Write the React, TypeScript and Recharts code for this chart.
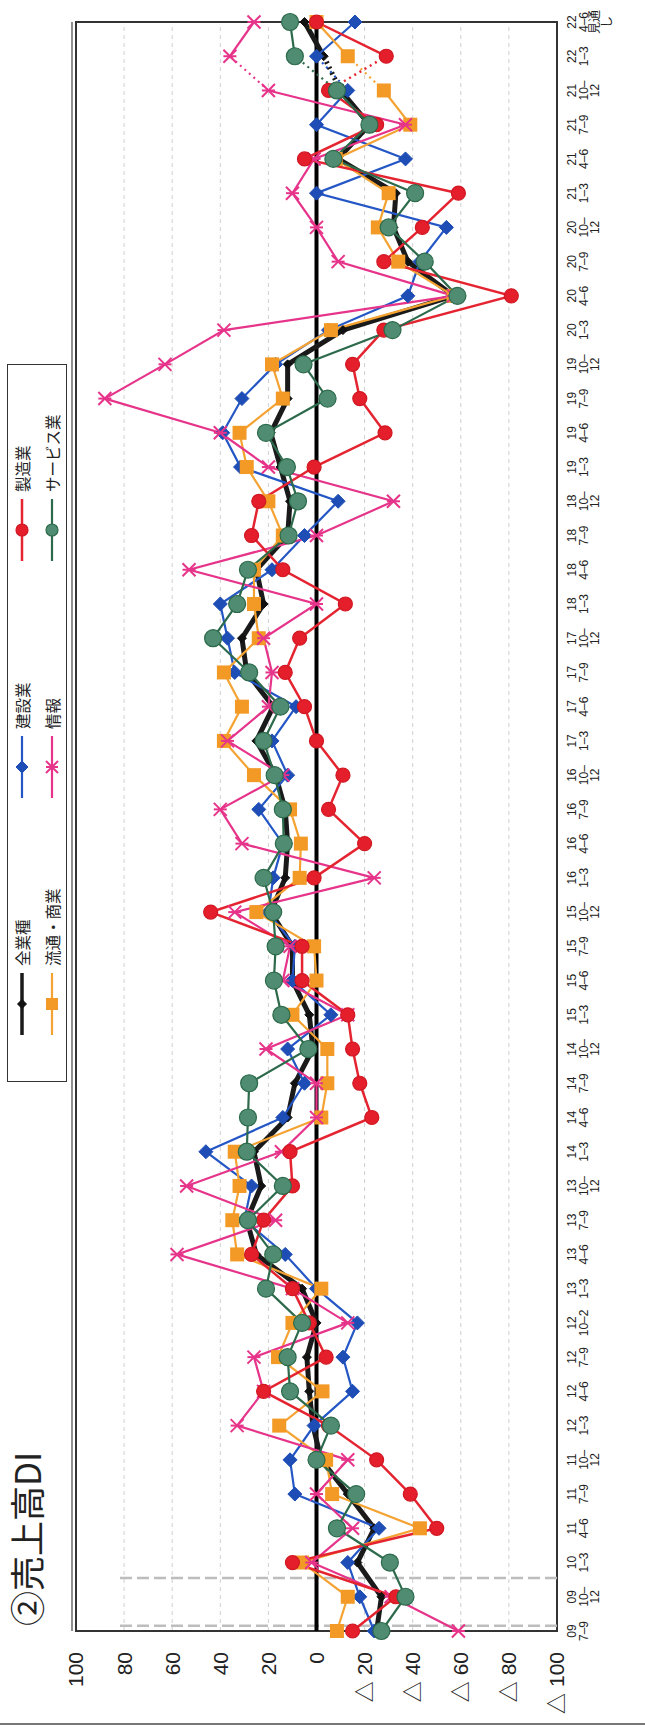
import React from 'react'
import {
  LineChart, Line, XAxis, YAxis, CartesianGrid, ReferenceLine, ReferenceArea,
} from 'recharts'

// category labels (year / quarter), one list of lines per tick
const catLabels: string[][] = [
  ['09', '7–9'], ['09', '10–', '12'], ['10', '1–3'],
  ['11', '4–6'], ['11', '7–9'], ['11', '10–', '12'],
  ['12', '1–3'], ['12', '4–6'], ['12', '7–9'], ['12', '10–2'],
  ['13', '1–3'], ['13', '4–6'], ['13', '7–9'], ['13', '10–', '12'],
  ['14', '1–3'], ['14', '4–6'], ['14', '7–9'], ['14', '10–', '12'],
  ['15', '1–3'], ['15', '4–6'], ['15', '7–9'], ['15', '10–', '12'],
  ['16', '1–3'], ['16', '4–6'], ['16', '7–9'], ['16', '10–', '12'],
  ['17', '1–3'], ['17', '4–6'], ['17', '7–9'], ['17', '10–', '12'],
  ['18', '1–3'], ['18', '4–6'], ['18', '7–9'], ['18', '10–', '12'],
  ['19', '1–3'], ['19', '4–6'], ['19', '7–9'], ['19', '10–', '12'],
  ['20', '1–3'], ['20', '4–6'], ['20', '7–9'], ['20', '10–', '12'],
  ['21', '1–3'], ['21', '4–6'], ['21', '7–9'], ['21', '10–', '12'],
  ['22', '1–3'], ['22', '4–6', '見通', 'し'],
]

const yTicks = [100, 80, 60, 40, 20, 0, -20, -40, -60, -80, -100]

// DI values per industry
const allIndustry = [
  -25, -27, -17, -24, -13, -2, 1.5, 3, 4, 0,
  6, 25, 29, 23, 26, 12, 9, 1.5, 3, 10,
  10, 19, 13, 12, 13, 17, 25, 18, 29, 31,
  22, 25, 12, 11, 15, 19, 12, 12, -11, -57,
  -38, -32, -33, -9, -22, -10, -3, 5,
]
const construction = [
  -24, -18, -13, -26, 9, 11, 1, -15, -11, -17,
  0, 13, 30, 27, 46, 14, 5, 12, -6, 10,
  9, 20, 18, 14, 24, 12, 18.5, 8.5, 34, 37,
  40, 18.5, 5, -9, 31.6, 39, 31, 17, -5, -38,
  -43, -54, 0, -37, 0, -13, 0, -16,
]
const manufacturing = [
  -15, -33, 10, -50, -39, -25, -5, 22, -4, 3,
  10, 27, 22, 10, 11, -23, -18, -15, -13, 6,
  6, 44, 1, -20, -5, -11, 0, 5, 13, 7,
  -12, 14, 27, 24, 1, -28.5, -18, -15, -28, -81,
  -28, -44, -59, 5, -25, -5, -29, 0,
]
const distribution = [
  -8.5, -13, 6, -43, -6.5, -4, 15.5, -2.5, 16, 10,
  -2, 33, 35, 32, 34, -2, -4.5, -4.5, 10, 0,
  1, 25, 7, 6.5, 11, 26, 38.5, 31, 38.5, 24,
  26, 26, 14, 20, 29, 32, 14, 18.5, -6, -57,
  -34, -25.5, -30, -8, -39, -28, -13, 0,
]
const information = [
  -59, -31, 2, -15, 0, -13, 33, 22, 26, -13,
  10, 58, 17, 54, 14.6, 0, 0, 21, -13, 14,
  11, 34, -24, 31, 40, 14, 37, 20, 18.5, 22,
  0, 53, 0, -32, 20, 40, 88, 63, 38.5, -57,
  -9, 0, 10, 1, -37, 20, 36, 26,
]
const service = [
  -27, -37, -30.5, -8.5, -16.5, 0, -6, 11, 12, 6,
  21, 18, 28.5, 14, 29, 28.5, 28, 3.4, 14.6, 17.7,
  17, 18, 22, 13.6, 14, 17.4, 22, 15, 28, 43,
  33, 28.5, 11.6, 7.7, 12.3, 21, -4.6, 5.4, -31.6, -58.6,
  -45, -30, -41, -7, -22, -8.5, 9, 11,
]

// segment between these two points is drawn dotted
const DOT_FROM = 45
const DOT_TO = 46

type Shape = 'diamond' | 'circle' | 'square' | 'star'
interface Series {
  key: string; name: string; values: number[]
  color: string; fill: string; edge: string; width: number; shape: Shape; size: number
}

const series: Series[] = [
  { key: 'all', name: '全業種', values: allIndustry, color: '#1a1a1a', fill: '#111', edge: '#111', width: 5, shape: 'diamond', size: 4.5 },
  { key: 'con', name: '建設業', values: construction, color: '#2457c5', fill: '#1d4db5', edge: '#1d4db5', width: 2.2, shape: 'diamond', size: 7 },
  { key: 'dis', name: '流通・商業', values: distribution, color: '#f4a232', fill: '#f39a26', edge: '#f39a26', width: 2.2, shape: 'square', size: 7 },
  { key: 'inf', name: '情報', values: information, color: '#e6348a', fill: '#e6348a', edge: '#e6348a', width: 2.2, shape: 'star', size: 6.5 },
  { key: 'man', name: '製造業', values: manufacturing, color: '#e42430', fill: '#e51e2c', edge: '#d01822', width: 2.5, shape: 'circle', size: 7 },
  { key: 'svc', name: 'サービス業', values: service, color: '#2c6a4b', fill: '#4f8c71', edge: '#2c6a4b', width: 2.2, shape: 'circle', size: 8.5 },
]

const legendRows = [['all', 'con', 'man'], ['dis', 'inf', 'svc']]

const rows = catLabels.map((_, i) => {
  const r: Record<string, number | null> = { i }
  series.forEach(s => {
    const v = s.values[i]
    r[s.key + '_a'] = i <= DOT_FROM ? v : null
    r[s.key + '_b'] = i === DOT_FROM || i === DOT_TO ? v : null
    r[s.key + '_c'] = i >= DOT_TO ? v : null
  })
  return r
})

function marker(s: Series, cx: number, cy: number) {
  const r = s.size
  switch (s.shape) {
    case 'diamond':
      return <polygon points={`${cx},${cy - r} ${cx + r},${cy} ${cx},${cy + r} ${cx - r},${cy}`} fill={s.fill} stroke={s.edge} />
    case 'square':
      return <rect x={cx - r} y={cy - r} width={r * 2} height={r * 2} fill={s.fill} />
    case 'circle':
      return <circle cx={cx} cy={cy} r={r} fill={s.fill} stroke={s.edge} strokeWidth={1.2} />
    default:
      return (
        <g stroke={s.fill} strokeWidth={2}>
          <line x1={cx - r} y1={cy - r} x2={cx + r} y2={cy + r} />
          <line x1={cx - r} y1={cy + r} x2={cx + r} y2={cy - r} />
          <line x1={cx} y1={cy - r} x2={cx} y2={cy + r} />
        </g>
      )
  }
}

const dotFor = (s: Series) => (p: any) => {
  if (p.value == null || p.cy == null) return <g key={p.key ?? p.index} />
  return <g key={p.key ?? p.index}>{marker(s, p.cx, p.cy)}</g>
}

function CatTick({ x, y, payload }: any) {
  const lines = catLabels[payload.value] || []
  return (
    <g transform={`translate(${x},${y})`}>
      <text textAnchor="middle" fontSize={12} fill="#222">
        {lines.map((t, k) => (
          <tspan key={k} x={0} dy={k === 0 ? 11 : 11.5}>{t}</tspan>
        ))}
      </text>
    </g>
  )
}

const fmtY = (v: number) => (v < 0 ? `△ ${-v}` : `${v}`)

// dashed guide extends a little below the plot frame
const guide = (p: any) => (
  <line x1={p.x1} y1={p.y1} x2={p.x2} y2={p.y2 + 40} stroke="#bdbdbd" strokeWidth={2.5} strokeDasharray="12 5" />
)

// second thin rule just above the top edge of the frame
const topRule = (p: any) => (
  <line x1={p.x1} y1={p.y1 - 4} x2={p.x2} y2={p.y2 - 4} stroke="#444" strokeWidth={1.2} />
)

function Legend() {
  return (
    <div style={{ position: 'absolute', left: 652, top: 7, width: 718, height: 60, border: '1.5px solid #333', background: '#fff', boxSizing: 'border-box' }}>
      {legendRows.map((row, ri) => row.map((k, ci) => {
        const s = series.find(d => d.key === k)!
        return (
          <div key={k} style={{ position: 'absolute', left: 46 + ci * 237, top: 4 + ri * 30, display: 'flex', alignItems: 'center', height: 20 }}>
            <svg width={62} height={20}>
              <line x1={0} y1={10} x2={62} y2={10} stroke={s.color} strokeWidth={Math.min(s.width, 3.5)} />
              {marker({ ...s, size: Math.min(s.size, 6) }, 31, 10)}
            </svg>
            <span style={{ marginLeft: 7, fontSize: 15.5, color: '#222', whiteSpace: 'nowrap' }}>{s.name}</span>
          </div>
        )
      }))}
    </div>
  )
}

export default function App() {
  const font = '"Liberation Sans", "Noto Sans CJK JP", sans-serif'
  return (
    <div style={{ position: 'absolute', left: 0, top: 0, width: 1734, height: 645, background: '#fff', fontFamily: font, transformOrigin: '0 0', transform: 'translateY(1734px) rotate(-90deg)' }}>
      <style>{'body{margin:0;overflow:hidden}'}</style>
      <div style={{ position: 'absolute', left: 9, top: 0, width: 2, height: 645, background: '#777' }} />
      <div style={{ position: 'absolute', left: 108, top: 6, fontSize: 35, lineHeight: '40px', color: '#222', fontFamily: '"Noto Sans CJK JP", sans-serif' }}>
        ②売上高DI
      </div>
      <Legend />
      <LineChart width={1734} height={645} data={rows} margin={{ top: 76, right: 22, bottom: 0, left: 13 }} style={{ fontFamily: font }}>
        <CartesianGrid vertical={false} stroke="#cfcfcf" strokeDasharray="4 4" />
        <XAxis type="number" dataKey="i" domain={[0, catLabels.length - 1]} ticks={catLabels.map((_, i) => i)}
          interval={0} height={88} axisLine={false} tickLine={false} tick={<CatTick />} />
        <YAxis type="number" domain={[-100, 100]} ticks={yTicks} interval={0} width={90}
          tickFormatter={fmtY} axisLine={false} tickLine={false} tickMargin={15}
          tick={{ fontSize: 21, fill: '#222' }} />
        <ReferenceArea x1={0} x2={catLabels.length - 1} y1={-100} y2={100} fill="none" stroke="#333" strokeWidth={2} />
        <ReferenceLine y={100} shape={topRule} />
        <ReferenceLine x={0.15} shape={guide} />
        <ReferenceLine x={1.55} shape={guide} />
        <ReferenceLine y={0} stroke="#000" strokeWidth={4} />
        {series.map(s => [
          <Line key={s.key + 'a'} dataKey={s.key + '_a'} stroke={s.color} strokeWidth={s.width} dot={dotFor(s)}
            activeDot={false} isAnimationActive={false} connectNulls={false} />,
          <Line key={s.key + 'b'} dataKey={s.key + '_b'} stroke={s.color} strokeWidth={s.width} strokeDasharray="2 4"
            dot={false} activeDot={false} isAnimationActive={false} connectNulls={false} />,
          <Line key={s.key + 'c'} dataKey={s.key + '_c'} stroke={s.color} strokeWidth={s.width} dot={dotFor(s)}
            activeDot={false} isAnimationActive={false} connectNulls={false} />,
        ])}
      </LineChart>
    </div>
  )
}
